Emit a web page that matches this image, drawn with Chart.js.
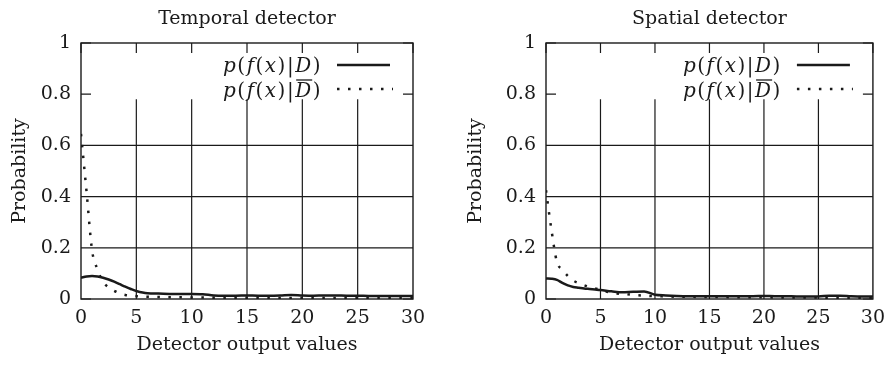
<!DOCTYPE html>
<html>
<head>
<meta charset="utf-8">
<script src="https://cdn.jsdelivr.net/npm/chart.js@4"></script>
<style>
  body { margin: 0; background: #fff; }
  .wrap { position: relative; width: 893px; height: 365px; }
  canvas { position: absolute; top: 0; }
</style>
</head>
<body>
<div class="wrap">
  <canvas id="temporal" width="446" height="365" style="left:0"></canvas>
  <canvas id="spatial" width="447" height="365" style="left:446px"></canvas>
</div>
<script>
// detector output values (x)
const xValues = [0, 0.5, 1, 1.5, 2, 2.5, 3, 3.5, 4, 4.5, 5,
  6, 7, 8, 9, 10, 11, 12, 13, 14, 15, 16, 17, 18, 19, 20,
  21, 22, 23, 24, 25, 26, 27, 28, 29, 30];

// temporal detector
const temporalD = [0.083, 0.088, 0.090, 0.088, 0.083, 0.076, 0.068, 0.058, 0.048, 0.039, 0.031,
  0.022, 0.021, 0.020, 0.020, 0.020, 0.019, 0.014, 0.013, 0.013, 0.014, 0.013, 0.013, 0.014, 0.016, 0.014,
  0.013, 0.014, 0.014, 0.013, 0.013, 0.012, 0.012, 0.012, 0.012, 0.012];
const temporalNotD = [0.645, 0.42, 0.19, 0.115, 0.067, 0.045, 0.032, 0.022, 0.016, 0.013, 0.011,
  0.009, 0.008, 0.007, 0.007, 0.006, 0.006, 0.005, 0.005, 0.005, 0.005, 0.005, 0.004, 0.004, 0.004, 0.004,
  0.004, 0.004, 0.004, 0.004, 0.004, 0.004, 0.004, 0.004, 0.004, 0.004];

// spatial detector
const spatialD = [0.080, 0.079, 0.075, 0.063, 0.053, 0.047, 0.044, 0.041, 0.039, 0.037, 0.035,
  0.030, 0.026, 0.028, 0.029, 0.017, 0.014, 0.012, 0.011, 0.011, 0.011, 0.011, 0.011, 0.011, 0.011, 0.012,
  0.011, 0.011, 0.010, 0.010, 0.010, 0.013, 0.013, 0.011, 0.010, 0.010];
const spatialNotD = [0.425, 0.27, 0.145, 0.115, 0.09, 0.072, 0.062, 0.054, 0.047, 0.041, 0.036,
  0.024, 0.020, 0.016, 0.013, 0.011, 0.010, 0.009, 0.009, 0.008, 0.008, 0.008, 0.007, 0.007, 0.007, 0.007,
  0.006, 0.006, 0.006, 0.006, 0.006, 0.005, 0.005, 0.005, 0.005, 0.005];

const xTicks = [0, 5, 10, 15, 20, 25, 30];
const yTicks = [0, 0.2, 0.4, 0.6, 0.8, 1];
const yTickLabels = ['0', '0.2', '0.4', '0.6', '0.8', '1'];

const FONT = 'DejaVu Serif';
const INK = '#1a1a1a';
Chart.defaults.font.family = FONT;
Chart.defaults.color = INK;

function pts(ys) {
  return xValues.map((x, i) => ({ x: x, y: ys[i] }));
}

// frame, grid (kept clear under the key) and inward ticks on all sides
const framePlugin = {
  id: 'frame',
  beforeDatasetsDraw(chart) {
    const { ctx, chartArea: a, scales: { x, y } } = chart;
    const cut = y.getPixelForValue(0.78);
    ctx.save();
    ctx.strokeStyle = INK;
    ctx.lineWidth = 1.2;
    ctx.beginPath();
    xTicks.forEach(v => {
      const px = x.getPixelForValue(v);
      if (v > 0 && v < 30) {
        ctx.moveTo(px, a.bottom); ctx.lineTo(px, cut);
      }
      ctx.moveTo(px, a.top); ctx.lineTo(px, a.top + 10);
    });
    yTicks.forEach(v => {
      const py = y.getPixelForValue(v);
      if (v > 0 && v < 0.78) {
        ctx.moveTo(a.left, py); ctx.lineTo(a.right, py);
      } else {
        ctx.moveTo(a.left, py); ctx.lineTo(a.left + 10, py);
        ctx.moveTo(a.right, py); ctx.lineTo(a.right - 10, py);
      }
    });
    ctx.stroke();
    ctx.lineWidth = 1.4;
    ctx.strokeRect(a.left, a.top, a.right - a.left, a.bottom - a.top);
    ctx.restore();
  },
  afterDraw(chart) {
    const { ctx, chartArea: a } = chart;
    ctx.save();
    ctx.fillStyle = INK;
    ctx.font = '19px "' + FONT + '"';
    ctx.textAlign = 'center';
    ctx.textBaseline = 'alphabetic';
    ctx.fillText(chart.options.plugins.chartTitle, (a.left + a.right) / 2, 24);

    // key
    drawKey(ctx, a.right - 91, 72, false);
    drawKey(ctx, a.right - 91, 97, true);
    ctx.strokeStyle = INK;
    ctx.lineWidth = 2.5;
    ctx.beginPath();
    ctx.moveTo(a.right - 76, 65); ctx.lineTo(a.right - 23, 65);
    ctx.stroke();
    ctx.setLineDash([2.5, 8.5]);
    ctx.beginPath();
    ctx.moveTo(a.right - 76, 89); ctx.lineTo(a.right - 20, 89);
    ctx.stroke();
    ctx.restore();
  }
};

function drawKey(ctx, right, base, bar) {
  const parts = [['p', 1], ['(', 0], ['f', 1], ['(', 0], ['x', 1], [')', 0], ['|', 0], ['D', 1], [')', 0]];
  const fontOf = it => (it ? 'italic ' : '') + '20px "' + FONT + '"';
  const gap = 1.5;
  let total = 0;
  parts.forEach(p => { ctx.font = fontOf(p[1]); total += ctx.measureText(p[0]).width + gap; });
  let cx = right - total;
  ctx.textAlign = 'left';
  parts.forEach(p => {
    ctx.font = fontOf(p[1]);
    const w = ctx.measureText(p[0]).width;
    ctx.fillText(p[0], cx, base);
    if (bar && p[0] === 'D') {
      ctx.save();
      ctx.strokeStyle = INK;
      ctx.lineWidth = 1.3;
      ctx.beginPath();
      ctx.moveTo(cx + 1, base - 17); ctx.lineTo(cx + w + 1, base - 17);
      ctx.stroke();
      ctx.restore();
    }
    cx += w + gap;
  });
}

function makeChart(id, title, solid, dotted, yWidth, padRight, yTitlePad) {
  return new Chart(document.getElementById(id), {
    type: 'line',
    data: {
      datasets: [
        {
          label: 'p(f(x)|D)',
          data: pts(solid),
          borderColor: INK,
          borderWidth: 2.5,
          pointRadius: 0,
          cubicInterpolationMode: 'monotone'
        },
        {
          label: 'p(f(x)|D\u0305)',
          data: pts(dotted),
          borderColor: INK,
          borderWidth: 2.5,
          borderDash: [2.5, 8.5],
          pointRadius: 0,
          cubicInterpolationMode: 'monotone'
        }
      ]
    },
    options: {
      responsive: false,
      animation: false,
      devicePixelRatio: 1,
      layout: { padding: { top: 43, right: padRight, left: 0, bottom: 0 } },
      plugins: {
        legend: { display: false },
        tooltip: { enabled: false },
        chartTitle: title
      },
      scales: {
        x: {
          type: 'linear',
          min: 0, max: 30,
          afterFit(s) { s.height = 66; },
          afterBuildTicks(s) { s.ticks = xTicks.map(v => ({ value: v })); },
          grid: { display: false, drawTicks: false },
          border: { display: false },
          ticks: { font: { size: 19 }, padding: 8, maxRotation: 0 },
          title: { display: true, text: 'Detector output values', font: { size: 19 }, padding: { top: 0, bottom: 9 } }
        },
        y: {
          min: 0, max: 1,
          afterFit(s) { s.width = yWidth; },
          afterBuildTicks(s) { s.ticks = yTicks.map(v => ({ value: v })); },
          grid: { display: false, drawTicks: false },
          border: { display: false },
          ticks: {
            font: { size: 19 },
            padding: 10,
            callback: (v, i) => yTickLabels[i]
          },
          title: { display: true, text: 'Probability', font: { size: 19 }, padding: { top: yTitlePad, bottom: 0 } }
        }
      }
    },
    plugins: [framePlugin]
  });
}

makeChart('temporal', 'Temporal detector', temporalD, temporalNotD, 81, 33, 8.6);
makeChart('spatial', 'Spatial detector', spatialD, spatialNotD, 100, 15, 18.6);
</script>
</body>
</html>
